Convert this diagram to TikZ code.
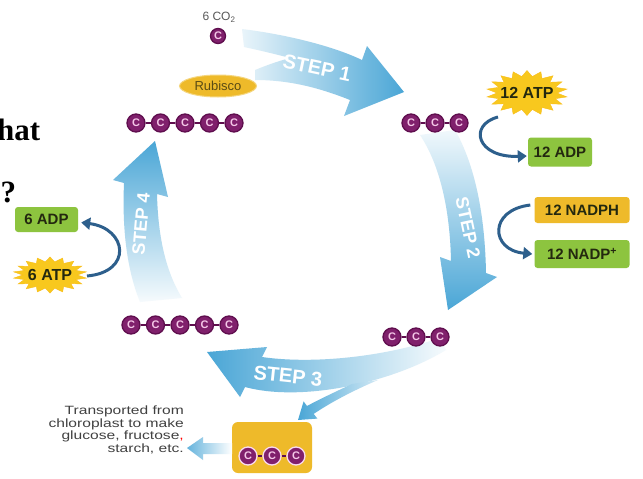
\documentclass[tikz,border=0pt]{standalone}
\usepackage{fontspec}
\setmainfont{Liberation Sans}
\newfontfamily\serifbf{Liberation Serif}
\newfontfamily\widesans[FakeStretch=1.3]{Liberation Sans}
\usetikzlibrary{arrows.meta,shapes.geometric,calc}
\definecolor{stepB}{RGB}{74,166,214}
\definecolor{darkA}{RGB}{45,95,140}
\definecolor{molF}{RGB}{128,32,108}
\definecolor{molD}{RGB}{95,14,78}
\definecolor{molT}{RGB}{245,200,232}
\definecolor{greenB}{RGB}{141,196,63}
\definecolor{yellowB}{RGB}{238,186,42}
\definecolor{starY}{RGB}{248,200,30}
\definecolor{lblT}{RGB}{35,40,15}
\definecolor{rubT}{RGB}{90,75,20}
\tikzset{
  mol/.style={circle, fill=molF, draw=molD, line width=1.3pt, minimum size=18pt, inner sep=0pt, text=molT, font=\bfseries\fontsize{11}{11}\selectfont},
  molline/.style={draw=molD, line width=1.3pt},
  gbox/.style={rounded corners=3pt, fill=greenB, text=lblT, font=\bfseries\fontsize{15}{15}\selectfont, inner sep=0pt},
  ybox/.style={rounded corners=3pt, fill=yellowB, text=lblT, font=\bfseries\fontsize{15}{15}\selectfont, inner sep=0pt},
  stepT/.style={text=white, font=\bfseries\fontsize{20}{20}\selectfont, inner sep=0pt},
  darr/.style={draw=darkA, line width=3pt, -{Triangle[width=12pt,length=9pt]}},
  burst/.style={star, star points=18, star point ratio=1.35, fill=starY, draw=starY!85!orange, inner sep=0pt, transform shape},
  burstT/.style={text=lblT, font=\bfseries\fontsize{16}{16}\selectfont, inner sep=0pt}
}
\begin{document}
\begin{tikzpicture}[x=1pt,y=-1pt]
\useasboundingbox (0,0) rectangle (643,479);
\fill[white] (0,0) rectangle (643,479);

% cut-off slide text
\node[anchor=base west, font=\serifbf\bfseries\fontsize{31}{31}\selectfont, inner sep=0pt] (hat) at (-3,140) {hat};
\node[anchor=base, font=\serifbf\bfseries\fontsize{31}{31}\selectfont, inner sep=0pt] (q) at (8.5,202) {?};

% STEP 1
\shade[left color=stepB!12, right color=stepB] (242,29) .. controls (290,35) and (335,47) .. (362,60) -- (367,46) -- (404,92) -- (344,116) -- (350,100) .. controls (320,88) and (290,80) .. (255,80) -- (255,70) .. controls (265,66) and (275,62) .. (290,58) .. controls (275,54) and (258,50) .. (244,47) -- cycle;
\node[stepT, rotate=-12] (s1) at (317,68) {STEP 1};

% STEP 2
\shade[top color=stepB!8, bottom color=stepB] (420,135) .. controls (440,165) and (450,210) .. (451,261) -- (440,257) -- (448,310) -- (497,277) -- (486,273) .. controls (485,215) and (475,165) .. (455,130) -- cycle;
\node[stepT, rotate=-78, font=\bfseries\fontsize{18}{18}\selectfont] (s2) at (468,228) {STEP 2};

% STEP 3
\shade[left color=stepB, right color=stepB!5] (262,357) .. controls (310,364) and (380,358) .. (440,338) -- (446,350) .. controls (390,384) and (300,402) .. (245,387) -- (240,397) -- (207,352) -- (267,347) -- cycle;
\shade[left color=stepB, right color=stepB!25] (352,384) .. controls (335,392) and (320,399) .. (307,406) -- (303.6,401.4) -- (298,420) -- (317.4,418.6) -- (313.7,413.9) .. controls (330,403) and (350,392) .. (378,380) -- cycle;
\node[stepT, rotate=-6] (s3) at (288,376) {STEP 3};

% STEP 4
\shade[top color=stepB, bottom color=stepB!5] (124,183) -- (113,180) -- (155,141) -- (168,197) -- (157,194) .. controls (158,235) and (165,270) .. (182,298) -- (140,302) .. controls (127,270) and (122,230) .. (124,183) -- cycle;
\node[stepT, rotate=85, font=\bfseries\fontsize{18}{18}\selectfont] (s4) at (141,224) {STEP 4};

% inputs to step 1
\node[text=black!65, font=\fontsize{12}{12}\selectfont, inner sep=0pt] (co2) at (219,17) {6 CO\textsubscript{2}};
\node[mol, minimum size=15pt] (c0) at (218,36) {C};
\node[ellipse, fill=yellowB, draw=yellowB!60!white, line width=1pt, minimum width=77pt, minimum height=22pt, inner sep=0pt, text=rubT, font=\fontsize{13}{13}\selectfont] (rub) at (218,86) {Rubisco};

% molecules
\foreach \i/\x in {1/136,2/160.5,3/185,4/209.5,5/234} \node[mol] (a\i) at (\x,123) {C};
\draw[molline] (a1) -- (a2) (a2) -- (a3) (a3) -- (a4) (a4) -- (a5);
\foreach \i/\x in {1/411,2/435,3/459} \node[mol] (b\i) at (\x,123) {C};
\draw[molline] (b1) -- (b2) (b2) -- (b3);
\foreach \i/\x in {1/392,2/416,3/440} \node[mol] (c\i) at (\x,337) {C};
\draw[molline] (c1) -- (c2) (c2) -- (c3);
\foreach \i/\x in {1/131,2/155.5,3/180,4/204.5,5/229} \node[mol] (d\i) at (\x,325) {C};
\draw[molline] (d1) -- (d2) (d2) -- (d3) (d3) -- (d4) (d4) -- (d5);

% output box
\node[ybox, minimum width=80pt, minimum height=51pt, rounded corners=6pt] (ybx) at (272,447.5) {};
\foreach \i/\x in {1/248,2/272,3/296} \node[mol, draw=molT!70!white] (e\i) at (\x,456) {C};
\draw[molline] (e1) -- (e2) (e2) -- (e3);
\shade[left color=stepB!85, right color=white] (187,448) -- (203,437) -- (203,443) -- (232,443) -- (232,454) -- (203,454) -- (203,460) -- cycle;
\node[anchor=north east, align=right, text=black!75, font=\widesans\fontsize{12}{12.5}\selectfont, inner sep=0pt] (trans) at (184,406) {Transported from\\chloroplast to make\\glucose, fructose{\color{red},}\\starch, etc.};

% step 2 energy
\begin{scope}[shift={(527,93)}, xscale=1.8]
  \node[burst, minimum size=45pt] (atp12s) at (0,0) {};
\end{scope}
\node[burstT] (atp12) at (527,93) {12 ATP};
\node[gbox, minimum width=64pt, minimum height=29pt] (adp12) at (560,152) {12 ADP};
\node[ybox, minimum width=95pt, minimum height=26pt] (nadph) at (582,210) {12 NADPH};
\node[gbox, minimum width=95pt, minimum height=28pt] (nadpp) at (582,254) {12 NADP\textsuperscript{+}};
\draw[darr] ($(atp12)+(-29,24)$) .. controls +(-30,8) and +(-50,2) .. ($(adp12.west)+(-1,4)$);
\draw[darr] ($(nadph.west)+(-4,-5)$) .. controls +(-42,5) and +(-42,-4) .. ($(nadpp.west)+(-2,0)$);

% step 4 energy
\begin{scope}[shift={(50,275)}, xscale=2.05]
  \node[burst, minimum size=36pt] (atp6s) at (0,0) {};
\end{scope}
\node[burstT] (atp6) at (50,275) {6 ATP};
\node[gbox, minimum width=63pt, minimum height=25pt] (adp6) at (46.5,219.5) {6 ADP};
\draw[darr] ($(atp6)+(37,1)$) .. controls +(46,-4) and +(46,6) .. ($(adp6.east)+(3,3)$);
\end{tikzpicture}
\end{document}
